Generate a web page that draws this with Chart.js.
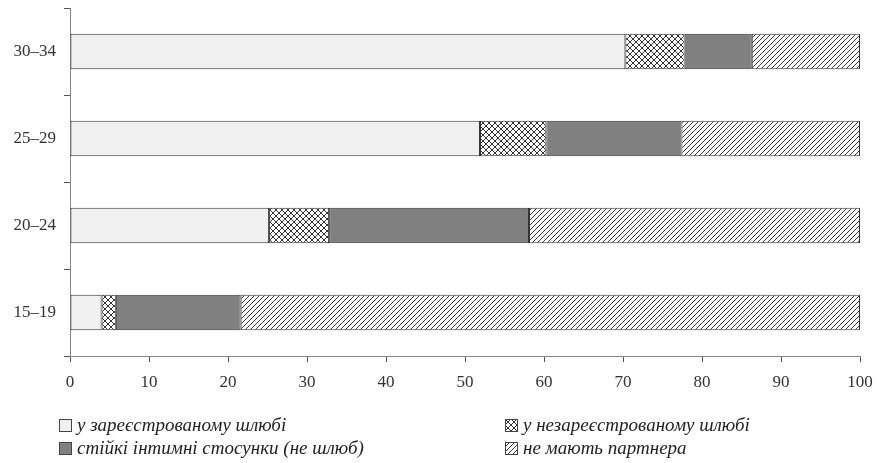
<!DOCTYPE html>
<html>
<head>
<meta charset="utf-8">
<script src="https://cdn.jsdelivr.net/npm/chart.js@4.4.1/dist/chart.umd.min.js"></script>
<style>
  html,body{margin:0;padding:0;background:#fff;}
  #wrap{position:relative;width:881px;height:463px;}
  #legend{position:absolute;left:0;top:0;width:881px;height:463px;pointer-events:none;
    font-family:"Liberation Serif","DejaVu Serif",serif;font-style:italic;font-size:19px;color:#222;}
  .li{position:absolute;display:flex;align-items:center;white-space:nowrap;}
  .li canvas{margin-right:5px;}
</style>
</head>
<body>
<div id="wrap">
  <canvas id="c" width="881" height="463"></canvas>
  <div id="legend"></div>
</div>
<script>
const categories = ['30–34', '25–29', '20–24', '15–19'];
const seriesNames = ['у зареєстрованому шлюбі', 'у незареєстрованому шлюбі', 'стійкі інтимні стосунки (не шлюб)', 'не мають партнера'];
const registered   = [70.3, 51.9, 25.2, 4.0];
const unregistered = [7.5, 8.4, 7.6, 1.8];
const stable       = [8.5, 17.1, 25.3, 15.8];
const noPartner    = [13.7, 22.6, 41.9, 78.4];
const xTicks = [0, 10, 20, 30, 40, 50, 60, 70, 80, 90, 100];

function hatchPattern(){
  const s = 5, c = document.createElement('canvas');
  c.width = s; c.height = s;
  const g = c.getContext('2d');
  g.fillStyle = '#fff'; g.fillRect(0,0,s,s);
  g.strokeStyle = '#222'; g.lineWidth = 0.9;
  g.beginPath();
  g.moveTo(0, s); g.lineTo(s, 0);
  g.moveTo(-1, 1); g.lineTo(1, -1);
  g.moveTo(s-1, s+1); g.lineTo(s+1, s-1);
  g.stroke();
  return g.createPattern(c, 'repeat');
}
function crossPattern(){
  const s = 6, c = document.createElement('canvas');
  c.width = s; c.height = s;
  const g = c.getContext('2d');
  g.fillStyle = '#fff'; g.fillRect(0,0,s,s);
  g.strokeStyle = '#333'; g.lineWidth = 1;
  g.beginPath();
  g.moveTo(0, 0); g.lineTo(s, s);
  g.moveTo(0, s); g.lineTo(s, 0);
  g.stroke();
  return g.createPattern(c, 'repeat');
}
const fills = ['#f0f0f0', crossPattern(), '#808080', hatchPattern()];
const values = [registered, unregistered, stable, noPartner];

const serif = '"Liberation Serif","DejaVu Serif",serif';
const chart = new Chart(document.getElementById('c'), {
  type: 'bar',
  data: {
    labels: categories,
    datasets: values.map((v, i) => ({
      label: seriesNames[i],
      data: v,
      backgroundColor: fills[i],
      borderColor: '#333',
      borderWidth: 1,
      borderSkipped: false,
      barPercentage: 0.41,
      categoryPercentage: 1.0
    }))
  },
  options: {
    indexAxis: 'y',
    responsive: false,
    animation: false,
    layout: { padding: { top: 8, right: 21, left: 0, bottom: 0 } },
    plugins: { legend: { display: false }, tooltip: { enabled: false } },
    scales: {
      x: {
        stacked: true, min: 0, max: 100,
        afterBuildTicks: (s) => { s.ticks = xTicks.map(v => ({ value: v })); },
        afterFit: (s) => { s.height = 107; s.paddingLeft = 0; s.paddingRight = 0; },
        grid: { drawOnChartArea: false, drawTicks: true, tickLength: 6, color: '#555' },
        border: { color: '#888', width: 1 },
        ticks: { font: { family: serif, size: 17 }, color: '#333', padding: 10 }
      },
      y: {
        stacked: true,
        afterFit: (s) => { s.width = 70; s.paddingTop = 0; s.paddingBottom = 0; },
        grid: { drawOnChartArea: false, drawTicks: true, tickLength: 6, color: '#555', offset: true },
        border: { color: '#888', width: 1 },
        ticks: { font: { family: serif, size: 17 }, color: '#333', padding: 8 }
      }
    }
  }
});

// HTML legend in two columns
const legend = document.getElementById('legend');
const pos = [[59, 425], [505, 425], [59, 448], [505, 448]];
seriesNames.forEach((name, i) => {
  const d = document.createElement('div');
  d.className = 'li';
  d.style.left = pos[i][0] + 'px';
  d.style.top = (pos[i][1] - 11) + 'px';
  d.style.height = '22px';
  const sw = document.createElement('canvas');
  sw.width = 13; sw.height = 13;
  const g = sw.getContext('2d');
  g.fillStyle = fills[i]; g.fillRect(0, 0, 13, 13);
  g.strokeStyle = '#444'; g.lineWidth = 1; g.strokeRect(0.5, 0.5, 12, 12);
  d.appendChild(sw);
  const t = document.createElement('span');
  t.textContent = name;
  d.appendChild(t);
  legend.appendChild(d);
});
</script>
</body>
</html>
